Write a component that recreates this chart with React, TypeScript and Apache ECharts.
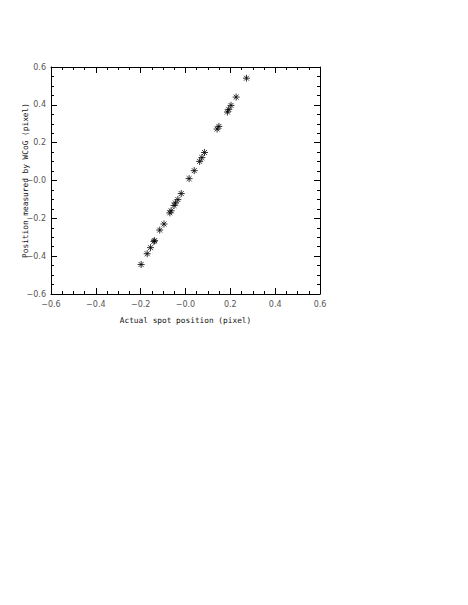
import React, { useEffect, useRef } from "react";
import * as echarts from "echarts";

const xValues = [
  0.272, 0.226, 0.203, 0.193, 0.187, 0.149, 0.141, 0.085, 0.073, 0.063, 0.039, 0.016,
  -0.019, -0.034, -0.045, -0.051, -0.064, -0.07, -0.096, -0.115, -0.138, -0.141, -0.156,
  -0.171, -0.198,
];
const yValues = [
  0.541, 0.441, 0.397, 0.376, 0.362, 0.286, 0.272, 0.148, 0.121, 0.101, 0.052, 0.01,
  -0.069, -0.101, -0.119, -0.132, -0.16, -0.171, -0.23, -0.262, -0.318, -0.322, -0.355,
  -0.387, -0.444,
];
const axisMin = -0.6;
const axisMax = 0.6;
const axisStep = 0.2;
const xTitle = "Actual spot position (pixel)";
const yTitle = "Position measured by WCoG (pixel)";

const fmt = (v: number) => {
  if (Math.abs(v) < 1e-9) return "\u22120.0";
  return (v < 0 ? "\u2212" : "") + Math.abs(v).toFixed(1);
};

const STAR = "path://M0,5L10,5M5,0L5,10M1.5,1.5L8.5,8.5M8.5,1.5L1.5,8.5";

export default function App() {
  const ref = useRef<HTMLDivElement>(null);
  useEffect(() => {
    if (!ref.current) return;
    const chart = echarts.init(ref.current, null, { renderer: "svg" });
    const lineStyle = { color: "#000", width: 1 };
    const label = {
      color: "#555",
      fontSize: 8,
      fontFamily: "DejaVu Sans",
      formatter: fmt,
    };
    const nameStyle = {
      color: "#111",
      fontSize: 7.8,
      fontFamily: "DejaVu Sans Mono",
    };
    const base = {
      type: "value" as const,
      min: axisMin,
      max: axisMax,
      interval: axisStep,
      axisLine: { show: true, onZero: false, lineStyle },
      axisTick: { show: true, inside: true, length: 6, lineStyle },
      minorTick: { show: true, splitNumber: 4, length: 3, lineStyle },
      splitLine: { show: false },
    };
    chart.setOption({
      animation: false,
      backgroundColor: "#fff",
      grid: {
        left: 51,
        top: 67,
        width: 269,
        height: 227,
        containLabel: false,
        outerBoundsMode: "none",
      },
      xAxis: [
        {
          ...base,
          position: "bottom",
          axisLabel: { ...label, margin: 6 },
          name: xTitle,
          nameLocation: "middle",
          nameGap: 22,
          nameTextStyle: nameStyle,
        },
        {
          ...base,
          position: "top",
          axisLabel: { show: false },
        },
      ],
      yAxis: [
        {
          ...base,
          position: "left",
          axisLabel: { ...label, margin: 5 },
          name: yTitle,
          nameLocation: "middle",
          nameGap: 22,
          nameMoveOverlap: false,
          nameTextStyle: nameStyle,
        },
        {
          ...base,
          position: "right",
          axisLabel: { show: false },
        },
      ],
      series: [
        {
          type: "scatter",
          xAxisIndex: 0,
          yAxisIndex: 0,
          data: xValues.map((x, i) => [x, yValues[i]]),
          symbol: STAR,
          symbolSize: 7,
          itemStyle: { color: "#000", borderColor: "#000", borderWidth: 1 },
        },
      ],
    });
    return () => chart.dispose();
  }, []);
  return (
    <div
      ref={ref}
      style={{ position: "fixed", left: 0, top: 0, width: 468, height: 605 }}
    />
  );
}
